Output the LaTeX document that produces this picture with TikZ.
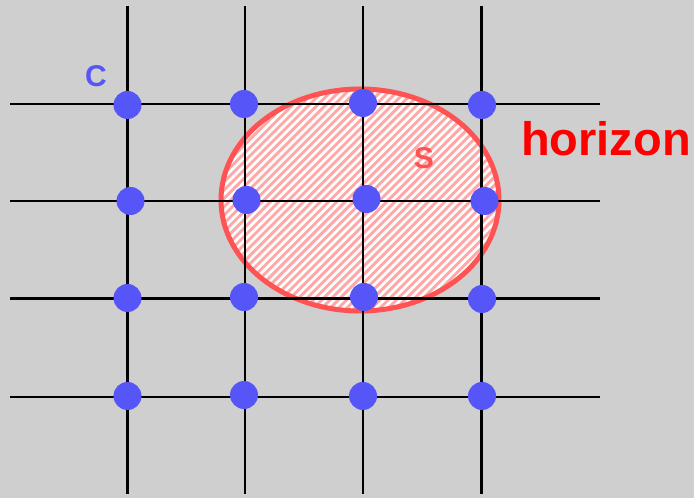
\documentclass[tikz,border=0pt]{standalone}
\usepackage{fontspec}
\setmainfont{Liberation Sans}
\definecolor{bg}{HTML}{CFCFCF}
\definecolor{dotblue}{HTML}{5656F8}
\definecolor{ringred}{HTML}{FF5252}
\definecolor{hatchpink}{HTML}{FFA8A8}
\definecolor{horizonred}{HTML}{FF0000}
\tikzset{
  gridline/.style={line width=2.7pt, black},
  gdot/.style={circle, fill=dotblue, minimum size=28pt, inner sep=0pt},
  hatchline/.style={line width=2.9pt, hatchpink},
  ring/.style={line width=5pt, ringred},
  lbl/.style={inner sep=0pt, font=\bfseries\fontsize{30}{30}\selectfont}
}
\begin{document}
\begin{tikzpicture}[x=1pt,y=1pt]
  \fill[bg] (0,0) rectangle (694,498);
  \useasboundingbox (0,0) rectangle (694,498);
  % horizon region
  \begin{scope}
    \clip (360,298) ellipse [x radius=139, y radius=111];
    \fill[white] (200,150) rectangle (520,450);
    \foreach \c in {-200,-191.7,...,320}
      \draw[hatchline] (\c+150,150) -- (\c+450,450);
  \end{scope}
  \draw[ring] (360,298) ellipse [x radius=139, y radius=111];
  % grid
  \foreach \x in {127.5,245,363,481.7}
    \draw[gridline] (\x,492) -- (\x,3.5);
  \foreach \y in {394,297,199.5,101}
    \draw[gridline] (10,\y) -- (600,\y);
  % dots
  \node[gdot] (d11) at (127.5,393) {};
  \node[gdot] (d12) at (244,394) {};
  \node[gdot] (d13) at (363,395) {};
  \node[gdot] (d14) at (482,393) {};
  \node[gdot] (d21) at (130.5,297) {};
  \node[gdot] (d22) at (246.5,298) {};
  \node[gdot] (d23) at (366.5,299) {};
  \node[gdot] (d24) at (484.5,297) {};
  \node[gdot] (d31) at (127.5,200) {};
  \node[gdot] (d32) at (244,201) {};
  \node[gdot] (d33) at (364,201) {};
  \node[gdot] (d34) at (482,199) {};
  \node[gdot] (d41) at (127.5,102) {};
  \node[gdot] (d42) at (244,103) {};
  \node[gdot] (d43) at (363,102) {};
  \node[gdot] (d44) at (482,102) {};
  % labels
  \node[lbl, text=dotblue] (c) at (96,422) {C};
  \node[lbl, text=ringred] (s) at (424,340) {S};
  \node[inner sep=0pt, anchor=base west, text=horizonred,
        font=\bfseries\fontsize{47}{47}\selectfont] (hz) at (521,342.5) {horizon};
\end{tikzpicture}
\end{document}
